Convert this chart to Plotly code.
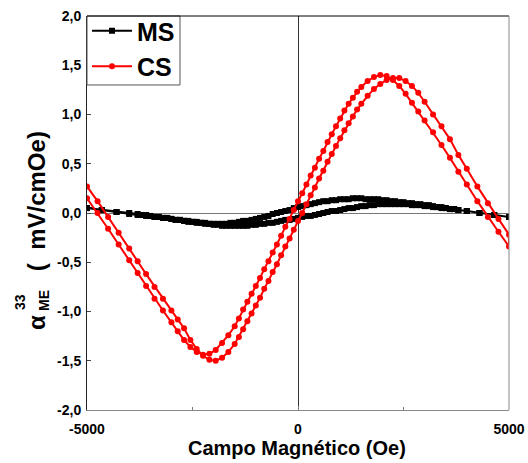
import plotly.graph_objects as go

# ---------------- data ----------------
X_CS = [-5000, -4750, -4500, -4250, -4000, -3800, -3600, -3400, -3200, -3000,
        -2850, -2700, -2550, -2400, -2250, -2100, -1950, -1800, -1650, -1500,
        -1400, -1300, -1200, -1100, -1000, -900, -800, -700, -600, -500,
        -400, -300, -200, -100, 0, 100, 200, 300, 400, 500,
        600, 700, 800, 900, 1000, 1100, 1200, 1300, 1400, 1500,
        1650, 1800, 1950, 2100, 2250, 2400, 2550, 2700, 2850, 3000,
        3200, 3400, 3600, 3800, 4000, 4250, 4500, 4750, 5000]
CS_A = [0.15, 0.00, -0.16, -0.32, -0.48, -0.61, -0.74, -0.87, -0.99, -1.11,
        -1.20, -1.29, -1.36, -1.41, -1.44, -1.43, -1.39, -1.32, -1.24, -1.15,
        -1.07, -0.98, -0.90, -0.82, -0.74, -0.66, -0.57, -0.49, -0.40, -0.32,
        -0.23, -0.14, -0.06, 0.03, 0.12, 0.20, 0.29, 0.38, 0.46, 0.55,
        0.63, 0.72, 0.80, 0.88, 0.96, 1.04, 1.11, 1.17, 1.23, 1.28,
        1.34, 1.38, 1.40, 1.39, 1.35, 1.29, 1.21, 1.12, 1.03, 0.94,
        0.82, 0.69, 0.56, 0.42, 0.29, 0.12, -0.04, -0.19, -0.34]
CS_B = [0.27, 0.12, -0.04, -0.20, -0.36, -0.49, -0.62, -0.75, -0.87, -0.99,
        -1.08, -1.17, -1.29, -1.38, -1.45, -1.49, -1.50, -1.47, -1.41, -1.33,
        -1.26, -1.18, -1.10, -1.02, -0.94, -0.86, -0.77, -0.69, -0.60, -0.52,
        -0.43, -0.34, -0.26, -0.17, -0.08, 0.00, 0.09, 0.18, 0.26, 0.35,
        0.43, 0.52, 0.60, 0.68, 0.76, 0.84, 0.91, 0.98, 1.05, 1.11,
        1.19, 1.26, 1.31, 1.35, 1.37, 1.37, 1.34, 1.29, 1.22, 1.13,
        1.00, 0.88, 0.75, 0.59, 0.45, 0.27, 0.10, -0.06, -0.22]

X_MS = [-5000, -4650, -4300, -4000,
        -3800, -3700, -3600, -3500, -3400, -3300, -3200, -3100, -3000, -2900,
        -2800, -2700, -2600, -2500, -2400, -2300, -2200, -2100, -2000, -1900,
        -1800, -1700, -1600, -1500, -1400, -1300, -1200, -1100, -1000, -900,
        -800, -700, -600, -500, -400, -300, -200, -100, 0, 100,
        200, 300, 400, 500, 600, 700, 800, 900, 1000, 1100,
        1200, 1300, 1400, 1500, 1600, 1700, 1800, 1900, 2000, 2100,
        2200, 2300, 2400, 2500, 2600, 2700, 2800, 2900, 3000, 3100,
        3200, 3300, 3400, 3500, 3600, 3700, 3800,
        4000, 4300, 4650, 5000]
MS_A = [0.05, 0.03, 0.01, 0.00,
        -0.01, -0.02, -0.02, -0.03, -0.04, -0.04, -0.05, -0.05, -0.06, -0.07,
        -0.07, -0.08, -0.08, -0.09, -0.09, -0.10, -0.10, -0.11, -0.11, -0.11,
        -0.11, -0.11, -0.10, -0.10, -0.09, -0.08, -0.08, -0.07, -0.06, -0.05,
        -0.04, -0.03, -0.01, 0.00, 0.01, 0.02, 0.03, 0.05, 0.06, 0.07,
        0.08, 0.09, 0.10, 0.11, 0.12, 0.12, 0.13, 0.13, 0.14, 0.14,
        0.14, 0.15, 0.15, 0.15, 0.14, 0.14, 0.14, 0.14, 0.13, 0.13,
        0.12, 0.12, 0.11, 0.11, 0.10, 0.10, 0.09, 0.09, 0.08, 0.08,
        0.07, 0.06, 0.06, 0.05, 0.04, 0.04, 0.03,
        0.02, 0.00, -0.02, -0.04]
MS_B = [0.05, 0.03, 0.01, -0.01,
        -0.02, -0.02, -0.03, -0.03, -0.04, -0.04, -0.05, -0.05, -0.06, -0.07,
        -0.07, -0.08, -0.09, -0.09, -0.10, -0.10, -0.11, -0.11, -0.12, -0.12,
        -0.13, -0.13, -0.13, -0.13, -0.13, -0.13, -0.13, -0.12, -0.12, -0.11,
        -0.11, -0.10, -0.10, -0.09, -0.08, -0.07, -0.07, -0.06, -0.05, -0.04,
        -0.03, -0.03, -0.02, -0.01, 0.00, 0.01, 0.02, 0.02, 0.03, 0.04,
        0.05, 0.05, 0.06, 0.07, 0.07, 0.08, 0.08, 0.09, 0.09, 0.09,
        0.09, 0.09, 0.09, 0.09, 0.09, 0.08, 0.08, 0.08, 0.07, 0.07,
        0.06, 0.06, 0.05, 0.05, 0.04, 0.04, 0.03,
        0.02, 0.00, -0.02, -0.04]

X_TICKS = [-5000, 0, 5000]
X_TICKTEXT = ["-5000", "0", "5000"]
Y_TICKS = [-2.0, -1.5, -1.0, -0.5, 0.0, 0.5, 1.0, 1.5, 2.0]
Y_TICKTEXT = ["-2,0", "-1,5", "-1,0", "-0,5", "0,0", "0,5", "1,0", "1,5", "2,0"]

FONT = "Arial, Liberation Sans, sans-serif"

# ---------------- figure ----------------
fig = go.Figure()

ms_x = X_MS + X_MS[::-1]
ms_y = MS_A + MS_B[::-1]
fig.add_trace(go.Scatter(
    x=ms_x, y=ms_y, mode="lines+markers", name="MS",
    line=dict(color="black", width=2),
    marker=dict(symbol="square", size=6, color="black"),
))

cs_x = X_CS + X_CS[::-1]
cs_y = CS_A + CS_B[::-1]
fig.add_trace(go.Scatter(
    x=cs_x, y=cs_y, mode="lines+markers", name="CS",
    line=dict(color="#ff0000", width=2),
    marker=dict(symbol="circle", size=6, color="#ff0000"),
))

fig.update_layout(
    width=528, height=463,
    margin=dict(l=87, r=19, t=16, b=53, autoexpand=False),
    paper_bgcolor="white", plot_bgcolor="white",
    font=dict(family=FONT, color="black"),
    showlegend=True,
    legend=dict(
        x=0, y=1.0203, xanchor="left", yanchor="top",
        bgcolor="rgba(0,0,0,0)", borderwidth=0,
        font=dict(family=FONT, size=25, weight="bold", color="black"),
        tracegroupgap=0, itemwidth=40,
    ),
    xaxis=dict(
        range=[-5000, 5000], tickvals=X_TICKS, ticktext=X_TICKTEXT,
        ticks="inside", ticklen=4, tickcolor="#777",
        showline=True, linecolor="#888", linewidth=1,
        zeroline=True, zerolinecolor="#333", zerolinewidth=1,
        showgrid=False, automargin=False,
        minor=dict(tickvals=[-2500, 2500], ticks="inside", ticklen=3, tickcolor="#777"),
        tickfont=dict(family=FONT, size=14, weight="bold"),
        ticklabelstandoff=6,
    ),
    yaxis=dict(
        range=[-2, 2], tickvals=Y_TICKS, ticktext=Y_TICKTEXT,
        ticks="inside", ticklen=4, tickcolor="#444",
        showline=True, linecolor="#222", linewidth=1,
        zeroline=True, zerolinecolor="#777", zerolinewidth=1,
        showgrid=False, automargin=False,
        tickfont=dict(family=FONT, size=14, weight="bold"),
        ticklabelstandoff=2,
    ),
    shapes=[
        # legend frame
        dict(type="rect", xref="paper", yref="paper", x0=0, x1=0.2204, y0=0.8249, y1=1,
             fillcolor="white", line=dict(color="#555", width=1), layer="above"),
        dict(type="line", xref="paper", yref="paper", x0=0, x1=1, y0=1, y1=1,
             line=dict(color="black", width=1)),
        dict(type="line", xref="paper", yref="paper", x0=1, x1=1, y0=0, y1=1,
             line=dict(color="#888", width=1)),
    ],
    annotations=[
        dict(text="Campo Magnético (Oe)", xref="paper", yref="paper",
             x=0.4976, y=-0.0964, xanchor="center", yanchor="middle", showarrow=False,
             font=dict(family=FONT, size=20, weight="bold")),
        dict(text="α", xref="paper", yref="paper", x=-0.1185, y=0.2234,
             xanchor="center", yanchor="middle", showarrow=False, textangle=-90,
             font=dict(family=FONT, size=24, weight="bold")),
        dict(text="33", xref="paper", yref="paper", x=-0.1588, y=0.274,
             xanchor="center", yanchor="middle", showarrow=False, textangle=-90,
             font=dict(family=FONT, size=14, weight="bold")),
        dict(text="ME", xref="paper", yref="paper", x=-0.102, y=0.279,
             xanchor="center", yanchor="middle", showarrow=False, textangle=-90,
             font=dict(family=FONT, size=14, weight="bold")),
        dict(text="(  mV/cmOe)", xref="paper", yref="paper", x=-0.1209, y=0.530,
             xanchor="center", yanchor="middle", showarrow=False, textangle=-90,
             font=dict(family=FONT, size=24, weight="bold")),
    ],
)

fig.write_html("out.html", config={"displayModeBar": False},
               post_script="document.body.style.margin='0';")
